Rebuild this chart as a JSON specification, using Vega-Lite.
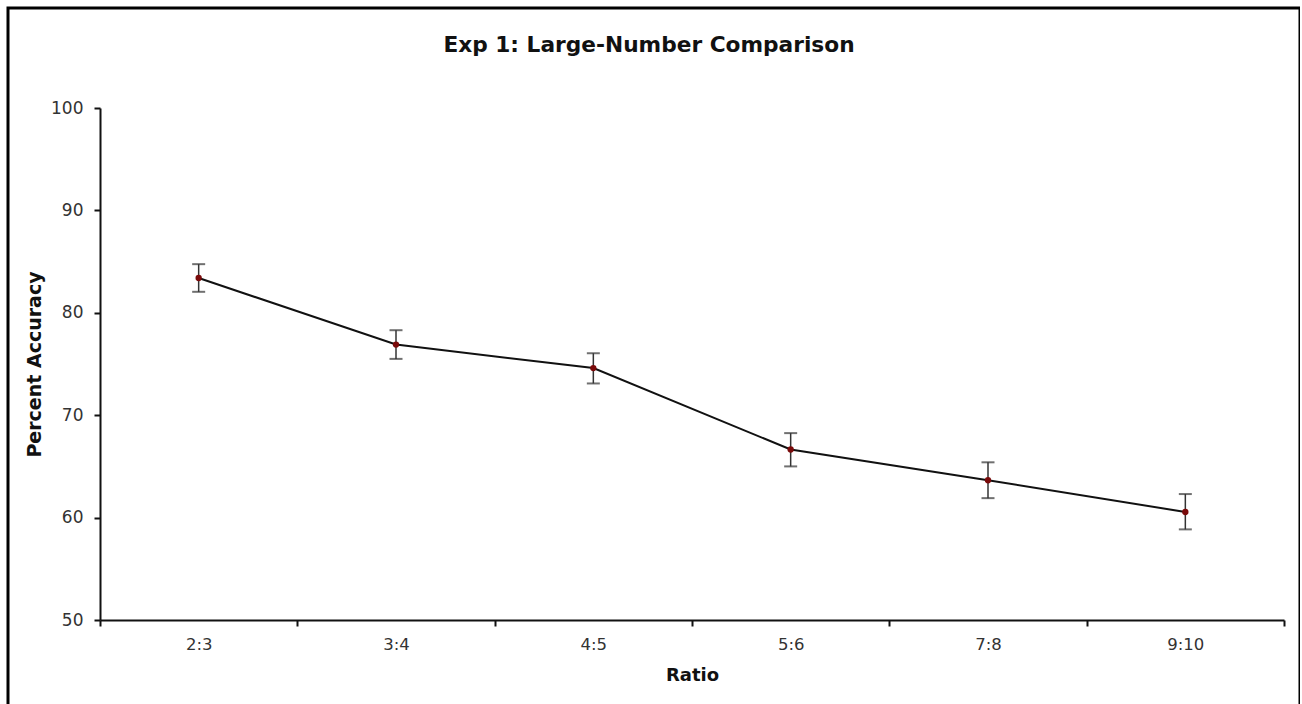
{
  "$schema": "https://vega.github.io/schema/vega-lite/v6.json",
  "autosize": {"type": "none"},
  "padding": {"left": 8, "top": 8, "right": 0, "bottom": 0},
  "width": 1292,
  "height": 700,
  "background": "white",
  "config": {
    "view": {"stroke": "black", "strokeWidth": 3},
    "font": "DejaVu Sans"
  },
  "title": {
    "text": "Exp 1: Large-Number Comparison",
    "font": "DejaVu Sans",
    "fontSize": 21.7,
    "fontWeight": "bold",
    "color": "#111",
    "anchor": "middle",
    "baseline": "alphabetic",
    "offset": -66,
    "dx": -5
  },
  "data": {
    "values": [
      {"ratio": "2:3", "accuracy": 83.4, "low": 82.05, "high": 84.75},
      {"ratio": "3:4", "accuracy": 76.9, "low": 75.5, "high": 78.3},
      {"ratio": "4:5", "accuracy": 74.6, "low": 73.1, "high": 76.05},
      {"ratio": "5:6", "accuracy": 66.65, "low": 65.0, "high": 68.25},
      {"ratio": "7:8", "accuracy": 63.65, "low": 61.9, "high": 65.4},
      {"ratio": "9:10", "accuracy": 60.55, "low": 58.85, "high": 62.3}
    ]
  },
  "encoding": {
    "x": {
      "field": "ratio",
      "type": "ordinal",
      "sort": null,
      "scale": {"type": "band", "range": [92, 1276], "paddingInner": 0, "paddingOuter": 0},
      "axis": {
        "title": "Ratio",
        "offset": -88,
        "labelAngle": 0,
        "tickBand": "extent",
        "tickSize": 6,
        "tickWidth": 2,
        "tickColor": "#111",
        "domainColor": "#111",
        "domainWidth": 2,
        "labelFont": "DejaVu Sans",
        "labelFontSize": 16.5,
        "labelColor": "#333",
        "labelPadding": 10,
        "titleFont": "DejaVu Sans",
        "titleFontSize": 18,
        "titleFontWeight": "bold",
        "titleColor": "#111",
        "titlePadding": 14,
        "grid": false
      }
    }
  },
  "layer": [
    {
      "mark": {"type": "errorbar", "ticks": {"size": 13, "thickness": 2, "color": "#333"}, "rule": {"strokeWidth": 1.5, "color": "#333"}},
      "encoding": {
        "y": {
          "field": "low",
          "type": "quantitative",
          "scale": {"domain": [50, 100], "range": [612, 100], "nice": false, "zero": false},
          "axis": {
            "title": "Percent Accuracy",
            "offset": -92,
            "values": [50, 60, 70, 80, 90, 100],
            "tickSize": 6,
            "tickWidth": 2,
            "tickColor": "#111",
            "domainColor": "#111",
            "domainWidth": 2,
            "labelFont": "DejaVu Sans",
            "labelFontSize": 17,
            "labelColor": "#333",
            "labelPadding": 11,
            "titleFont": "DejaVu Sans",
            "titleFontSize": 19,
            "titleFontWeight": "bold",
            "titleColor": "#111",
            "titlePadding": 6,
            "grid": false
          }
        },
        "y2": {"field": "high"}
      }
    },
    {
      "mark": {"type": "line", "color": "#111", "strokeWidth": 2},
      "encoding": {"y": {"field": "accuracy", "type": "quantitative"}}
    },
    {
      "mark": {"type": "point", "filled": true, "color": "#7a0a0a", "size": 40, "opacity": 1},
      "encoding": {"y": {"field": "accuracy", "type": "quantitative"}}
    }
  ]
}
